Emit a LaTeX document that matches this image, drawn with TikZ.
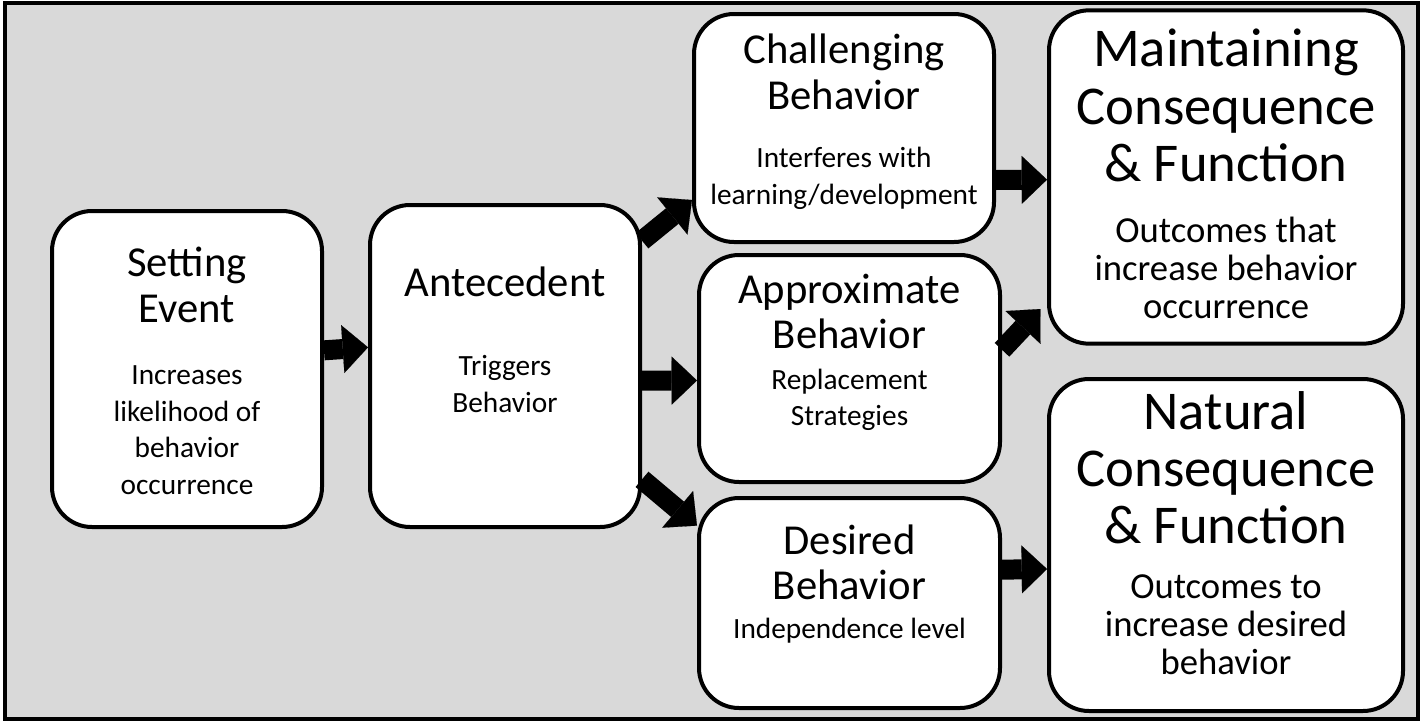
\documentclass[tikz,border=0pt]{standalone}
\usepackage{fontspec}
\setmainfont{Carlito}
\usetikzlibrary{positioning,arrows.meta}

\tikzset{
  box/.style={draw, line width=3pt, rounded corners=30pt, fill=white, inner sep=0pt},
  ttl/.style={font=\fontsize{32}{34}\selectfont, align=center, inner sep=0pt},
  bigttl/.style={font=\fontsize{41}{43}\selectfont, align=center, inner sep=0pt},
  sub/.style={font=\fontsize{22}{27.5}\selectfont, align=center, inner sep=0pt},
  bigsub/.style={font=\fontsize{27.5}{28.5}\selectfont, align=center, inner sep=0pt},
  blk/.style={line width=15pt, -{Triangle[length=19pt,width=36pt,line width=0.1pt]}}
}

\begin{document}
\begin{tikzpicture}[x=0.75pt, y=-0.75pt]
\useasboundingbox (0,0) rectangle (1424,721);
\draw[line width=3pt, fill=black!15] (5,3) rectangle (1418,719);

% boxes
\node[box, minimum width=202.5pt, minimum height=237pt] (set) at (187,369) {};
\node[box, minimum width=202.5pt, minimum height=241.5pt] (ante) at (505,366) {};
\node[box, minimum width=225pt, minimum height=171pt] (chal) at (844,128) {};
\node[box, minimum width=225.75pt, minimum height=170.25pt] (appr) at (849.5,368.5) {};
\node[box, minimum width=225.75pt, minimum height=157.5pt] (desi) at (849.5,603) {};
\node[box, minimum width=265.5pt, minimum height=250pt] (main) at (1226,177) {};
\node[box, minimum width=265.5pt, minimum height=249pt] (natu) at (1226,545) {};

% texts
\node[ttl] (setT) at ([yshift=-57pt]set.north) {Setting\\Event};
\node[sub] (setS) at ([yshift=-166pt]set.north) {Increases\\likelihood of\\behavior\\occurrence};
\node[ttl] (anteT) at ([yshift=-59pt]ante.north) {Antecedent};
\node[sub] (anteS) at ([yshift=-136pt]ante.north) {Triggers\\Behavior};
\node[ttl] (chalT) at ([yshift=-45pt]chal.north) {Challenging\\Behavior};
\node[sub] (chalS) at ([yshift=-125pt]chal.north) {Interferes with\\learning/development};
\node[ttl] (apprT) at ([yshift=-44pt]appr.north) {Approximate\\Behavior};
\node[sub] (apprS) at ([yshift=-110pt]appr.north) {Replacement\\Strategies};
\node[ttl] (desiT) at ([yshift=-50pt]desi.north) {Desired\\Behavior};
\node[sub] (desiS) at ([yshift=-101pt]desi.north) {Independence level};
\node[bigttl] (mainT) at ([yshift=-73pt]main.north) {Maintaining\\Consequence\\\& Function};
\node[bigsub] (mainS) at ([yshift=-195pt]main.north) {Outcomes that\\increase behavior\\occurrence};
\node[bigttl] (natuT) at ([yshift=-68pt]natu.north) {Natural\\Consequence\\\& Function};
\node[bigsub] (natuS) at ([yshift=-186pt]natu.north) {Outcomes to\\increase desired\\behavior};

% arrows
\draw[blk] ([yshift=14pt]set.east) -- ([yshift=14pt]ante.west);
\draw[blk] ([yshift=94pt]ante.east) -- ([yshift=-54pt]chal.west);
\draw[blk] ([yshift=-11pt]ante.east) -- ([yshift=-9pt]appr.west);
\draw[blk] ([yshift=-85pt]ante.east) -- ([yshift=58pt]desi.west);
\draw[blk] ([yshift=-39pt]chal.east) -- ([yshift=-2pt]main.west);
\draw[blk] ([yshift=14pt]appr.east) -- ([xshift=-5pt,yshift=-99pt]main.west);
\draw[blk] ([yshift=25pt]desi.east) -- ([yshift=-18pt]natu.west);
\end{tikzpicture}
\end{document}
